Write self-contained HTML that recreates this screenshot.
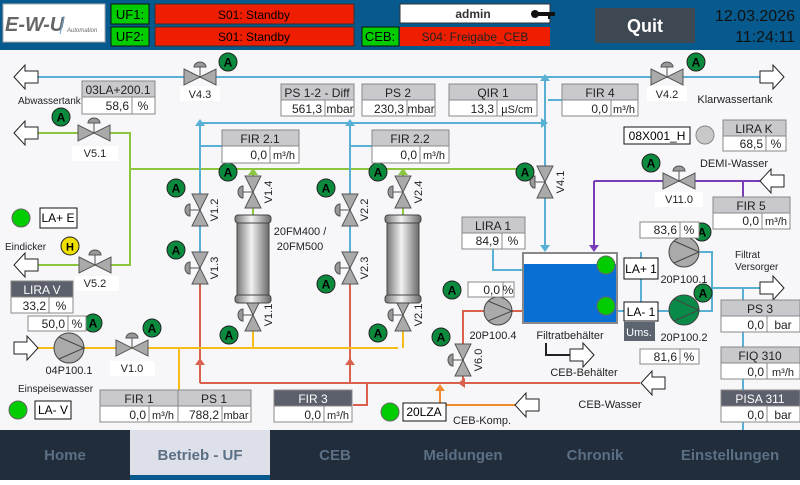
<!DOCTYPE html>
<html><head><meta charset="utf-8"><style>
body{margin:0;width:800px;height:480px;overflow:hidden;font-family:"Liberation Sans",sans-serif}
svg text{font-family:"Liberation Sans",sans-serif}
</style></head><body>
<svg width="800" height="480" viewBox="0 0 800 480" xmlns="http://www.w3.org/2000/svg">
<defs>
<linearGradient id="cyl" x1="0" x2="1"><stop offset="0" stop-color="#777"/><stop offset=".45" stop-color="#f2f2f2"/><stop offset="1" stop-color="#6a6a6a"/></linearGradient>
<g id="vh"><line x1="0" y1="0" x2="0" y2="-10" stroke="#555"/><path d="M-6,-10 A6,5 0 0 1 6,-10 Z" fill="#999" stroke="#555"/><path d="M-16,-8 L16,8 L16,-8 L-16,8 Z" fill="#aaa" stroke="#555" stroke-width="1"/></g>
<g id="A"><circle r="9" fill="#0b8a3e" stroke="#222"/><text y="4.5" text-anchor="middle" font-size="12" font-weight="bold" fill="#000">A</text></g>
<g id="aL"><path d="M0,0 L11,-12 L11,-6 L24,-6 L24,6 L11,6 L11,12 Z" fill="#fff" stroke="#222"/></g>
<g id="aR"><path d="M24,0 L13,-12 L13,-6 L0,-6 L0,6 L13,6 L13,12 Z" fill="#fff" stroke="#222"/></g>
<g id="cy"><rect x="-16" y="-38" width="32" height="76" fill="url(#cyl)" stroke="#444"/><rect x="-18" y="-44" width="36" height="8" rx="3" fill="url(#cyl)" stroke="#444"/><rect x="-18" y="36" width="36" height="8" rx="3" fill="url(#cyl)" stroke="#444"/></g>
</defs>
<rect width="800" height="480" fill="#f7f7fa"/>
<!-- header -->
<rect width="800" height="50" fill="#065a8e"/>
<rect x="3" y="4" width="102" height="38" fill="#fff" stroke="#aaa"/>
<text x="5" y="31" font-size="20" font-style="italic" font-weight="bold" fill="#666">E-W-U</text>
<line x1="64" y1="16" x2="60" y2="34" stroke="#6aa0d0"/><text x="67" y="32" font-size="6" font-style="italic" fill="#666">Automation</text>
<rect x="111" y="4" width="38" height="20" fill="#0c0" stroke="#111"/><text x="130" y="19" font-size="13" text-anchor="middle">UF1:</text>
<rect x="111" y="27" width="38" height="19" fill="#0c0" stroke="#111"/><text x="130" y="41" font-size="13" text-anchor="middle">UF2:</text>
<rect x="155" y="4" width="199" height="20" fill="#f01e00" stroke="#333"/><text x="254" y="19" font-size="12" text-anchor="middle">S01: Standby</text>
<rect x="155" y="27" width="199" height="19" fill="#f01e00" stroke="#333"/><text x="254" y="41" font-size="12" text-anchor="middle">S01: Standby</text>
<rect x="362" y="27" width="37" height="19" fill="#0c0" stroke="#111"/><text x="380" y="41" font-size="13" text-anchor="middle">CEB:</text>
<rect x="400" y="4" width="150" height="19" fill="#fff" stroke="#333"/><text x="473" y="18" font-size="12" font-weight="bold" text-anchor="middle" fill="#333">admin</text>
<circle cx="535" cy="14" r="4" fill="#111"/><rect x="535" y="12" width="20" height="4" fill="#111"/><rect x="548" y="12" width="2" height="7" fill="#111"/>
<rect x="400" y="27" width="150" height="19" fill="#f01e00"/><text x="475" y="41" font-size="12" text-anchor="middle" fill="#222">S04: Freigabe_CEB</text>
<rect x="595" y="8" width="100" height="35" fill="#3e4852"/><text x="645" y="32" font-size="18" font-weight="bold" fill="#fff" text-anchor="middle">Quit</text>
<text x="795" y="21" font-size="16" text-anchor="end" fill="#111">12.03.2026</text>
<text x="795" y="42" font-size="16" text-anchor="end" fill="#111">11:24:11</text>

<!-- pipes -->
<g fill="none" stroke-width="2">
<path d="M37,77 H760" stroke="#5ab0d4"/>
<path d="M37,133 H130 V265 H37" stroke="#8cc63e"/>
<path d="M130,169 H520" stroke="#8cc63e"/>
<path d="M253,169 V185 M253,200 V230 M403,169 V185 M403,200 V230" stroke="#8cc63e"/>
<path d="M200,123 H545 M545,78 V250 M200,123 V290 M350,123 V290 M200,146 H222 M350,146 H372 M548,100 H562" stroke="#5ab0d4"/>
<path d="M493,249 V270 H523 M617,311 H700 M641,252 V311 M700,252 H712 V311 H700 M712,288 H760 M743,288 V440" stroke="#5ab0d4"/>
<path d="M594,181 H760 M594,181 V250 M743,181 V197" stroke="#7a3db8"/>
<path d="M200,280 V383 M350,280 V383 M200,383 H640 M367,383 V405 H353 M463,383 V311 H523" stroke="#d9614d"/>
<path d="M37,348 H398 M179,348 V390 M253,348 V302 M403,348 V302" stroke="#f5bc1a"/>
<path d="M446,405 H515 M440,405 V388" stroke="#f08a30"/>
<path d="M546,343 V355 H570" stroke="#222"/>
</g>
<g fill="#5ab0d4"><path d="M545,74 l-5,7 h10z"/><path d="M200,119 l-5,7 h10z"/><path d="M350,119 l-5,7 h10z"/><path d="M548,123 l-7,-5 v10z"/><path d="M545,252 l-5,-7 h10z"/></g>
<path d="M594,252 l-5,-7 h10z" fill="#7a3db8"/>
<g fill="#d9614d"><path d="M200,358 l-5,7 h10z"/><path d="M350,358 l-5,7 h10z"/><path d="M458,383 l7,-5 v10z"/></g>
<g fill="#f5bc1a"><path d="M253,288 l-5,7 h10z"/><path d="M403,288 l-5,7 h10z"/></g>
<g fill="#8cc63e"><path d="M253,168 l-5,7 h10z"/><path d="M403,168 l-5,7 h10z"/></g>
<path d="M440,384 l-5,7 h10z" fill="#f08a30"/>

<!-- arrows -->
<use href="#aL" x="14" y="77"/><use href="#aL" x="14" y="133"/><use href="#aL" x="14" y="265"/>
<use href="#aR" x="14" y="348"/><use href="#aR" x="760" y="77"/><use href="#aL" x="760" y="181"/>
<use href="#aR" x="760" y="288"/><use href="#aR" x="570" y="355"/><use href="#aL" x="641" y="383"/><use href="#aL" x="515" y="405"/>

<!-- valves -->
<use href="#vh" x="200" y="77"/><use href="#vh" x="667" y="77"/><use href="#vh" x="94" y="133"/><use href="#vh" x="95" y="265"/>
<use href="#vh" x="132" y="348"/><use href="#vh" x="679" y="181"/>
<use href="#vh" transform="translate(200,210) rotate(-90)"/><use href="#vh" transform="translate(200,268) rotate(-90)"/>
<use href="#vh" transform="translate(253,192) rotate(-90)"/><use href="#vh" transform="translate(253,315) rotate(-90)"/>
<use href="#vh" transform="translate(350,210) rotate(-90)"/><use href="#vh" transform="translate(350,268) rotate(-90)"/>
<use href="#vh" transform="translate(403,192) rotate(-90)"/><use href="#vh" transform="translate(403,315) rotate(-90)"/>
<use href="#vh" transform="translate(545,182) rotate(-90)"/><use href="#vh" transform="translate(463,360) rotate(-90)"/>

<!-- valve labels -->
<g font-size="11" fill="#222" text-anchor="middle">
<rect x="180" y="86" width="40" height="15" fill="#fff"/><text x="200" y="98">V4.3</text>
<rect x="647" y="86" width="40" height="15" fill="#fff"/><text x="667" y="98">V4.2</text>
<rect x="72" y="146" width="46" height="15" fill="#fff"/><text x="95" y="157">V5.1</text>
<rect x="75" y="276" width="44" height="15" fill="#fff"/><text x="95" y="287">V5.2</text>
<rect x="110" y="361" width="45" height="15" fill="#fff"/><text x="132" y="372">V1.0</text>
<rect x="655" y="192" width="48" height="15" fill="#fff"/><text x="679" y="203">V11.0</text>
<text x="69" y="374">04P100.1</text>
<text transform="translate(218,210) rotate(-90)">V1.2</text><text transform="translate(218,268) rotate(-90)">V1.3</text>
<text transform="translate(272,192) rotate(-90)">V1.4</text><text transform="translate(272,315) rotate(-90)">V1.1</text>
<text transform="translate(368,210) rotate(-90)">V2.2</text><text transform="translate(368,268) rotate(-90)">V2.3</text>
<text transform="translate(422,192) rotate(-90)">V2.4</text><text transform="translate(422,315) rotate(-90)">V2.1</text>
<text transform="translate(564,182) rotate(-90)">V4.1</text><text transform="translate(482,360) rotate(-90)">V6.0</text>
<text x="300" y="235">20FM400 /</text><text x="300" y="250">20FM500</text>
<text x="493" y="339">20P100.4</text><text x="684" y="283">20P100.1</text><text x="684" y="341">20P100.2</text>
<text x="570" y="339">Filtratbehälter</text><text x="584" y="376">CEB-Behälter</text>
<text x="610" y="408">CEB-Wasser</text>
<text x="482" y="424">CEB-Komp.</text><text x="734" y="167">DEMI-Wasser</text>
<text x="735" y="103">Klarwassertank</text>
</g>
<g font-size="10" fill="#222">
<text x="18" y="104">Abwassertank</text><text x="5" y="250">Eindicker</text><text x="18" y="392">Einspeisewasser</text>
<text x="735" y="258">Filtrat</text><text x="735" y="270">Versorger</text>
</g>

<!-- A indicators -->
<use href="#A" x="228" y="62"/><use href="#A" x="61" y="117"/><use href="#A" x="696" y="62"/>
<use href="#A" x="176" y="188"/><use href="#A" x="228" y="172"/><use href="#A" x="176" y="250"/><use href="#A" x="229" y="335"/>
<use href="#A" x="326" y="188"/><use href="#A" x="378" y="172"/><use href="#A" x="326" y="284"/><use href="#A" x="378" y="333"/>
<use href="#A" x="525" y="172"/><use href="#A" x="651" y="163"/><use href="#A" x="702" y="232"/><use href="#A" x="703" y="293"/>
<use href="#A" x="452" y="290"/><use href="#A" x="441" y="337"/><use href="#A" x="93" y="323"/><use href="#A" x="152" y="328"/>
<circle cx="70" cy="246" r="9" fill="#f0e000" stroke="#222"/><text x="70" y="250.5" font-size="11" font-weight="bold" text-anchor="middle">H</text>

<!-- filters -->
<use href="#cy" x="253" y="259"/><use href="#cy" x="403" y="259"/>

<!-- pumps -->
<circle cx="69" cy="348" r="15" fill="#aaa" stroke="#444"/><path d="M59,337 L84,348 L59,359" fill="none" stroke="#444"/>
<circle cx="498" cy="311" r="14" fill="#aaa" stroke="#444"/><path d="M488,301 L512,311 L488,321" fill="none" stroke="#444"/>
<circle cx="684" cy="252" r="15" fill="#aaa" stroke="#444"/><path d="M674,241 L699,252 L674,263" fill="none" stroke="#444"/>
<circle cx="684" cy="310" r="15" fill="#0a8a48" stroke="#444"/><path d="M674,299 L699,310 L674,321" fill="none" stroke="#444"/>

<!-- tank -->
<rect x="523" y="253" width="94" height="70" fill="#fff" stroke="#888" stroke-width="2"/>
<rect x="524" y="264" width="92" height="58" fill="#0a6fd4"/>
<circle cx="606" cy="265" r="9" fill="#0c0" stroke="#666"/><circle cx="606" cy="306" r="9" fill="#0c0" stroke="#666"/>

<!-- lamps / labels -->
<circle cx="21" cy="218" r="9" fill="#0c0" stroke="#666"/><rect x="40" y="208" width="37" height="20" fill="#fff" stroke="#111"/><text x="58" y="222" font-size="12" text-anchor="middle">LA+ E</text>
<circle cx="18" cy="410" r="9" fill="#0c0" stroke="#666"/><rect x="35" y="401" width="36" height="18" fill="#fff" stroke="#111"/><text x="53" y="414" font-size="12" text-anchor="middle">LA- V</text>
<circle cx="390" cy="412" r="9" fill="#0c0" stroke="#666"/><rect x="403" y="403" width="43" height="18" fill="#fff" stroke="#111"/><text x="424" y="416" font-size="12" text-anchor="middle">20LZA</text>
<rect x="624" y="127" width="66" height="17" fill="#fff" stroke="#111"/><text x="657" y="140" font-size="12" text-anchor="middle">08X001_H</text>
<circle cx="705" cy="135" r="9" fill="#c8c8c8" stroke="#888"/>
<rect x="624" y="258" width="34" height="21" fill="#fff" stroke="#111"/><text x="641" y="273" font-size="12" text-anchor="middle">LA+ 1</text>
<rect x="624" y="302" width="34" height="19" fill="#fff" stroke="#111"/><text x="641" y="316" font-size="12" text-anchor="middle">LA- 1</text>
<rect x="624" y="322" width="31" height="19" fill="#5c6470"/><text x="639" y="336" font-size="11" fill="#fff" text-anchor="middle">Ums.</text>

<!-- data boxes -->
<g font-size="12" fill="#222" stroke-width="1">
<g stroke="#888">
<rect x="82" y="81" width="73" height="16" fill="#c9c9cd"/><rect x="82" y="97" width="73" height="17" fill="#fff"/><line x1="132" y1="97" x2="132" y2="114"/>
<rect x="281" y="84" width="73" height="16" fill="#c9c9cd"/><rect x="281" y="100" width="73" height="16" fill="#fff"/><line x1="325" y1="100" x2="325" y2="116"/>
<rect x="362" y="84" width="73" height="16" fill="#c9c9cd"/><rect x="362" y="100" width="73" height="16" fill="#fff"/><line x1="407" y1="100" x2="407" y2="116"/>
<rect x="449" y="84" width="88" height="16" fill="#c9c9cd"/><rect x="449" y="100" width="88" height="16" fill="#fff"/><line x1="497" y1="100" x2="497" y2="116"/>
<rect x="562" y="84" width="76" height="16" fill="#c9c9cd"/><rect x="562" y="100" width="76" height="16" fill="#fff"/><line x1="611" y1="100" x2="611" y2="116"/>
<rect x="222" y="130" width="77" height="16" fill="#c9c9cd"/><rect x="222" y="146" width="77" height="17" fill="#fff"/><line x1="270" y1="146" x2="270" y2="163"/>
<rect x="372" y="130" width="77" height="16" fill="#c9c9cd"/><rect x="372" y="146" width="77" height="17" fill="#fff"/><line x1="420" y1="146" x2="420" y2="163"/>
<rect x="723" y="120" width="63" height="16" fill="#c9c9cd"/><rect x="723" y="136" width="63" height="15" fill="#fff"/><line x1="766" y1="136" x2="766" y2="151"/>
<rect x="713" y="197" width="77" height="16" fill="#c9c9cd"/><rect x="713" y="213" width="77" height="16" fill="#fff"/><line x1="762" y1="213" x2="762" y2="229"/>
<rect x="462" y="217" width="63" height="16" fill="#c9c9cd"/><rect x="462" y="233" width="63" height="16" fill="#fff"/><line x1="502" y1="233" x2="502" y2="249"/>
<rect x="11" y="281" width="62" height="16" fill="#5c5f6c"/><rect x="11" y="297" width="62" height="16" fill="#fff"/><line x1="49" y1="297" x2="49" y2="313"/>
<rect x="28" y="316" width="58" height="15" fill="#fff"/><line x1="68" y1="316" x2="68" y2="331"/>
<rect x="468" y="282" width="46" height="15" fill="#fff"/><line x1="503" y1="282" x2="503" y2="297"/>
<rect x="640" y="222" width="59" height="16" fill="#fff"/><line x1="680" y1="222" x2="680" y2="238"/>
<rect x="640" y="349" width="59" height="15" fill="#fff"/><line x1="680" y1="349" x2="680" y2="364"/>
<rect x="100" y="390" width="151" height="16" fill="#c9c9cd"/><rect x="100" y="406" width="151" height="16" fill="#fff"/><line x1="178" y1="390" x2="178" y2="422"/><line x1="149" y1="406" x2="149" y2="422"/><line x1="222" y1="406" x2="222" y2="422"/>
<rect x="274" y="390" width="78" height="16" fill="#5c5f6c"/><rect x="274" y="406" width="78" height="16" fill="#fff"/><line x1="324" y1="406" x2="324" y2="422"/>
<rect x="721" y="300" width="79" height="16" fill="#c9c9cd"/><rect x="721" y="316" width="79" height="16" fill="#fff"/><line x1="767" y1="316" x2="767" y2="332"/>
<rect x="721" y="347" width="79" height="16" fill="#c9c9cd"/><rect x="721" y="363" width="79" height="16" fill="#fff"/><line x1="767" y1="363" x2="767" y2="379"/>
<rect x="721" y="390" width="79" height="16" fill="#5c5f6c"/><rect x="721" y="406" width="79" height="16" fill="#fff"/><line x1="767" y1="406" x2="767" y2="422"/>
</g>
<g text-anchor="middle">
<text x="118" y="94">03LA+200.1</text><text x="317" y="97">PS 1-2 - Diff</text><text x="398" y="97">PS 2</text><text x="493" y="97">QIR 1</text><text x="600" y="97">FIR 4</text>
<text x="260" y="143">FIR 2.1</text><text x="410" y="143">FIR 2.2</text><text x="754" y="133">LIRA K</text><text x="751" y="210">FIR 5</text><text x="493" y="230">LIRA 1</text>
<text x="42" y="294" fill="#fff">LIRA V</text><text x="139" y="403">FIR 1</text><text x="214" y="403">PS 1</text><text x="313" y="403" fill="#fff">FIR 3</text>
<text x="760" y="313">PS 3</text><text x="760" y="360">FIQ 310</text><text x="760" y="403" fill="#fff">PISA 311</text>
<text x="143" y="110">%</text><text x="340" y="113">mbar</text><text x="421" y="113">mbar</text><text x="517" y="113" font-size="11">µS/cm</text><text x="624" y="113" font-size="11">m³/h</text>
<text x="284" y="159" font-size="11">m³/h</text><text x="434" y="159" font-size="11">m³/h</text><text x="776" y="148">%</text><text x="776" y="225" font-size="11">m³/h</text>
<text x="513" y="245">%</text><text x="61" y="310">%</text><text x="77" y="328">%</text><text x="508" y="294">%</text><text x="689" y="234">%</text><text x="689" y="361">%</text>
<text x="163" y="419" font-size="11">m³/h</text><text x="236" y="419" font-size="11">mbar</text><text x="338" y="419" font-size="11">m³/h</text>
<text x="783" y="329">bar</text><text x="783" y="376" font-size="11">m³/h</text><text x="783" y="419">bar</text>
</g>
<g text-anchor="end">
<text x="129" y="110">58,6</text><text x="322" y="113">561,3</text><text x="404" y="113">230,3</text><text x="494" y="113">13,3</text><text x="608" y="113">0,0</text>
<text x="267" y="159">0,0</text><text x="417" y="159">0,0</text><text x="763" y="148">68,5</text><text x="759" y="225">0,0</text><text x="499" y="245">84,9</text>
<text x="46" y="310">33,2</text><text x="65" y="328">50,0</text><text x="500" y="294">0,0</text><text x="677" y="234">83,6</text><text x="677" y="361">81,6</text>
<text x="146" y="419">0,0</text><text x="219" y="419">788,2</text><text x="321" y="419">0,0</text>
<text x="764" y="329">0,0</text><text x="764" y="376">0,0</text><text x="764" y="419">0,0</text>
</g>
</g>

<!-- nav -->
<rect x="0" y="430" width="800" height="50" fill="#222d3b"/>
<rect x="130" y="430" width="140" height="50" fill="#dde0e8"/>
<rect x="130" y="475" width="140" height="5" fill="#065a8e"/>
<g font-size="15" font-weight="bold" fill="#5b6f85" text-anchor="middle">
<text x="65" y="460">Home</text><text x="200" y="460">Betrieb - UF</text><text x="335" y="460">CEB</text>
<text x="463" y="460">Meldungen</text><text x="595" y="460">Chronik</text><text x="730" y="460">Einstellungen</text>
</g>
</svg>
</body></html>
